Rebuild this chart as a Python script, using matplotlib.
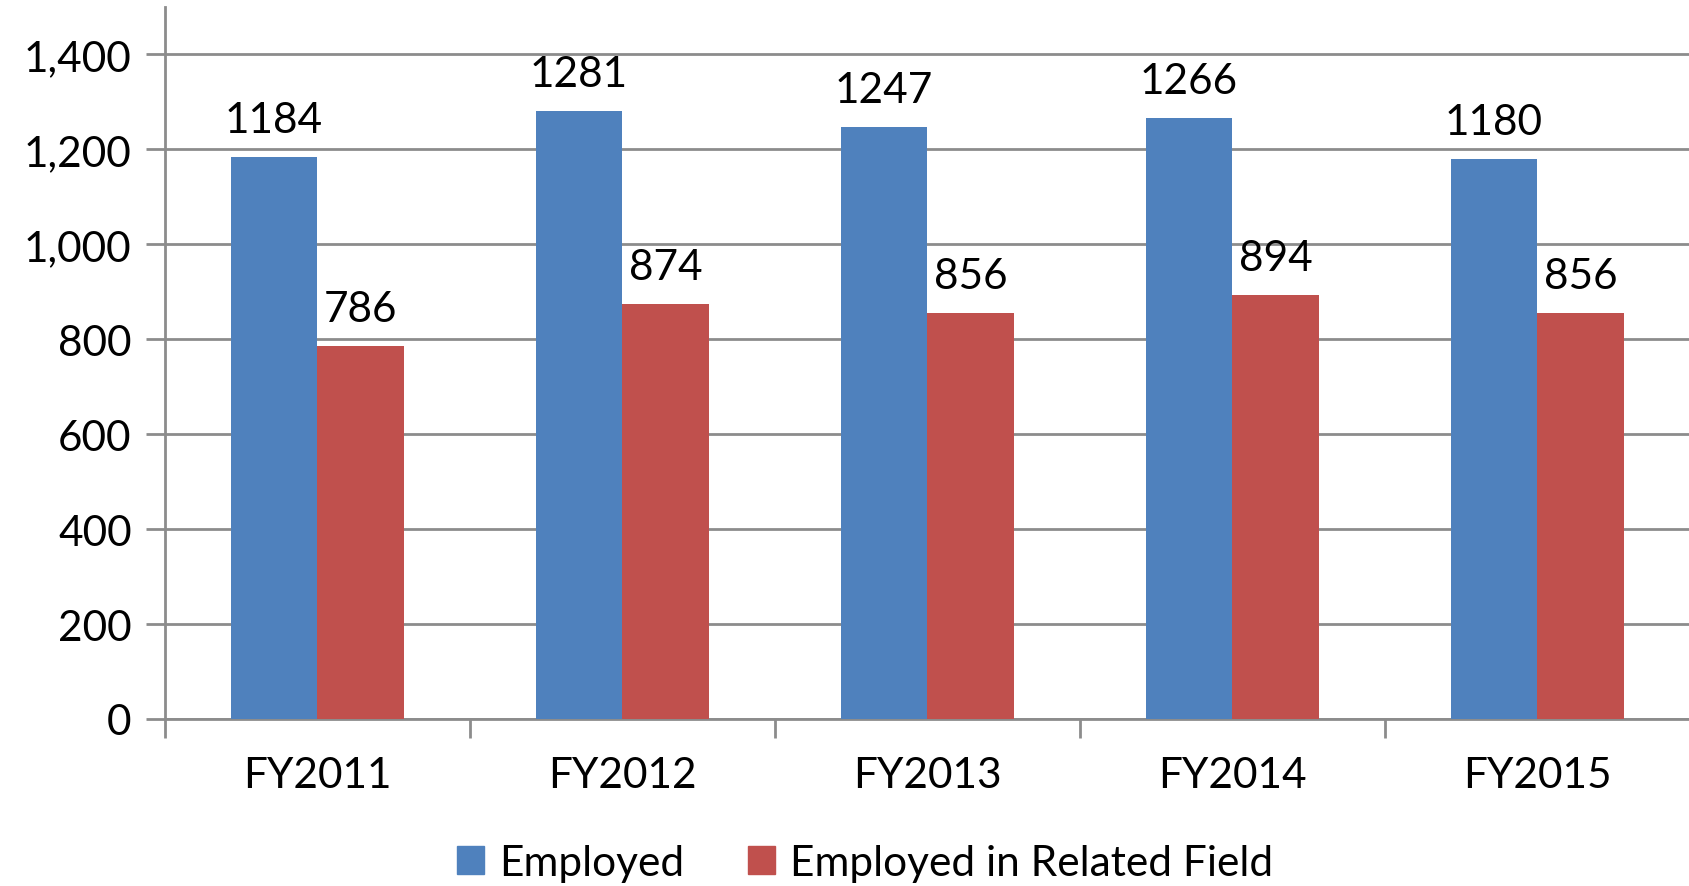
import matplotlib
matplotlib.use("Agg")
import matplotlib.pyplot as plt
import numpy as np
from matplotlib.patches import Patch

categories = ["FY2011", "FY2012", "FY2013", "FY2014", "FY2015"]
employed = [1184, 1281, 1247, 1266, 1180]
related = [786, 874, 856, 894, 856]
series_names = ["Employed", "Employed in Related Field"]
colors = ["#4F81BD", "#C0504D"]

plt.rcParams['font.family'] = ['Lato', 'DejaVu Sans']

W, H = 1690, 887
fs = 30.5
fig = plt.figure(figsize=(W/100, H/100), dpi=100)
ax = fig.add_axes([165/W, 1-720/H, (1690-165)/W, (720-8)/H])

x = np.arange(len(categories))
bw = 0.285
b1 = ax.bar(x - bw/2, employed, bw, color=colors[0], edgecolor='none', zorder=3)
b2 = ax.bar(x + bw/2, related, bw, color=colors[1], edgecolor='none', zorder=3)

for bars, vals in ((b1, employed), (b2, related)):
    for r, v in zip(bars, vals):
        ax.annotate(str(v), (r.get_x() + r.get_width()/2, v), xytext=(0, 13),
                    textcoords='offset points', ha='center', va='bottom',
                    fontsize=fs, color='black')

ax.set_xlim(-0.5, len(categories) - 0.5)
ax.set_ylim(0, 1500)
ax.set_yticks(range(0, 1401, 200))
ax.set_yticklabels([f"{v:,}" for v in range(0, 1401, 200)], fontsize=fs)
ax.yaxis.grid(True, color='#8c8c8c', linewidth=2, zorder=0)
ax.set_xticks(x)
ax.set_xticklabels(categories, fontsize=fs)
ax.set_xticks(np.arange(-0.5, len(categories)), minor=True)
ax.tick_params(axis='x', which='major', length=0, pad=27)
ax.tick_params(axis='x', which='minor', length=14, width=2, color='#8c8c8c')
ax.tick_params(axis='y', length=14, width=2, color='#8c8c8c', pad=10)
for s in ['top', 'right']:
    ax.spines[s].set_visible(False)
for s in ['left', 'bottom']:
    ax.spines[s].set_color('#8c8c8c')
    ax.spines[s].set_linewidth(2)

handles = [Patch(color=c, label=n) for c, n in zip(colors, series_names)]
fig.legend(handles=handles, loc='center', bbox_to_anchor=(865/W, 1-864/H), ncol=2,
           frameon=False, fontsize=fs, handlelength=0.65, handleheight=0.65,
           handletextpad=0.35, columnspacing=1.5)

fig.savefig("out.png", dpi=100)
